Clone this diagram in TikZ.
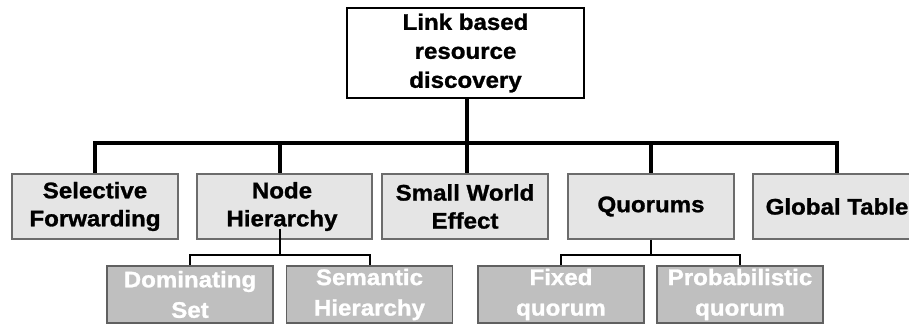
\documentclass[tikz,border=0pt]{standalone}
\usepackage{fontspec}
\setmainfont{Liberation Sans}[FakeStretch=1.07, BoldFeatures={FakeBold=1.2}]
\begin{document}
\begin{tikzpicture}[x=1pt,y=-1pt,
  every node/.style={inner sep=0pt, align=center, font=\fontsize{22.5}{28}\selectfont\bfseries},
  rootbox/.style={draw=black, line width=1.8pt, fill=white, text=black,
    minimum width=237pt, minimum height=90pt, font=\fontsize{22.5}{29}\selectfont\bfseries},
  topic/.style={draw=gray!85!black, line width=1.2pt, fill=black!10, text=black,
    minimum width=166pt, minimum height=65pt},
  subtopic/.style={draw=gray!75!black, line width=1.2pt, fill=black!25, text=white,
    minimum width=166pt, minimum height=57pt, font=\fontsize{22.5}{30.5}\selectfont\bfseries},
  trunk/.style={line width=3.2pt, draw=black},
  branch/.style={line width=2pt, draw=black}
]
\useasboundingbox (0,0) rectangle (909,324);
\clip (0,0) rectangle (909,324);

% root
\node[rootbox] (root) at (465.5,53) {Link based\\resource\\discovery};

% first level
\node[topic] (sf) at (95,206.5) {Selective\\Forwarding};
\node[topic, minimum width=175pt] (nh) at (284.5,206.5) {\hspace*{-5pt}Node\\\hspace*{-5pt}Hierarchy};
\node[topic] (swe) at (465,206.5) {Small World\\Effect};
\node[topic] (qu) at (651,206.5) {Quorums};
\node[topic, minimum width=168pt] (gt) at (837,206.5) {Global Table};

% second level
\node[subtopic] (ds) at (190,294.5) {Dominating\\Set};
\node[subtopic] (sh) at (369.5,294.5) {Semantic\\Hierarchy};
\node[subtopic] (fq) at (561,294.5) {Fixed\\quorum};
\node[subtopic] (pq) at (740,294.5) {Probabilistic\\quorum};

% trunk connectors
\coordinate (bar) at (467,143);
\draw[trunk] (root.south -| bar) -- (bar);
\draw[trunk] (bar) -| (sf.north);
\draw[trunk] (bar) -| ([xshift=-4.5pt]nh.north);
\draw[trunk] (bar) -- (bar |- swe.north);
\draw[trunk] (bar) -| (qu.north);
\draw[trunk] (bar) -| (gt.north);

% branch connectors
\coordinate (nhj) at (280,255);
\coordinate (quj) at (651,255);
\draw[branch] ([xshift=-4.5pt,yshift=11pt]nh.south) -- (nhj);
\draw[branch] (nhj) -| (ds.north);
\draw[branch] (nhj) -| (sh.north);
\draw[branch] (qu.south) -- (quj);
\draw[branch] (quj) -| (fq.north);
\draw[branch] (quj) -| (pq.north);
\end{tikzpicture}
\end{document}
